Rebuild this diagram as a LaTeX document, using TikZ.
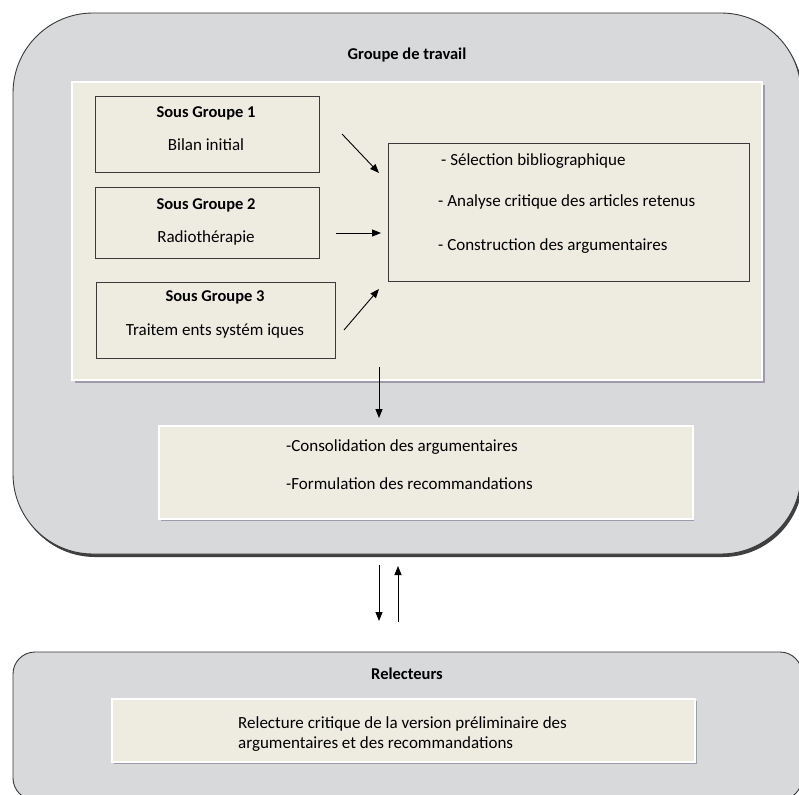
\documentclass[tikz,border=0pt]{standalone}
\usepackage{fontspec}
\setmainfont{Carlito}
\usetikzlibrary{arrows.meta,shadows,calc}
\definecolor{grpgray}{HTML}{D8D9DB}
\definecolor{beige}{HTML}{EEECE1}
\definecolor{shad}{HTML}{A09AAE}
\definecolor{edge}{HTML}{3A3A3A}
\tikzset{
  txt/.style={font=\fontsize{17}{20}\selectfont, inner sep=0pt},
  ttl/.style={font=\bfseries\fontsize{16.5}{20}\selectfont, inner sep=0pt},
  panel/.style={fill=beige, draw=white, line width=1.5pt},
  subbox/.style={draw=edge, line width=0.9pt},
  arr/.style={-{Triangle[length=9pt,width=7pt]}, line width=0.9pt, black},
}
\begin{document}
\begin{tikzpicture}[x=1pt,y=-1pt]
\useasboundingbox (0,0) rectangle (799,794);
\fill[white] (0,0) rectangle (799,794);
% Groupe de travail outer box
\fill[black!75, rounded corners=80] (15,16) rectangle (803,557);
\draw[edge, fill=grpgray, line width=0.9pt, rounded corners=80] (13,13) rectangle (801,554);
\node[ttl] (gtitle) at (407,55) {Groupe de travail};
% inner panel
\fill[shad] (75,85) rectangle (765,383);
\draw[panel] (72,82) rectangle (762,380);
% sub groups
\node[subbox, minimum width=224, minimum height=76, anchor=north west] (sg1) at (95,96) {};
\node[ttl] (sg1t) at (206,113) {Sous Groupe 1};
\node[txt] (sg1s) at (206,145) {Bilan initial};
\node[subbox, minimum width=224, minimum height=71, anchor=north west] (sg2) at (95,187) {};
\node[ttl] (sg2t) at (206,205) {Sous Groupe 2};
\node[txt] (sg2s) at (206,238) {Radiothérapie};
\node[subbox, minimum width=239, minimum height=76, anchor=north west] (sg3) at (96,282) {};
\node[ttl] (sg3t) at (215,297) {Sous Groupe 3};
\node[txt] (sg3s) at (215,331) {Traitem ents systém iques};
% right box
\node[subbox, minimum width=361, minimum height=138, anchor=north west] (rb) at (388,143) {};
\node[txt, anchor=west] (r1) at (441,161) {- Sélection bibliographique};
\node[txt, anchor=west] (r2) at (438,202) {- Analyse critique des articles retenus};
\node[txt, anchor=west] (r3) at (438,246) {- Construction des argumentaires};
% arrows into right box
\coordinate (a1s) at (342,134); \coordinate (a1e) at (379,173);
\coordinate (a2s) at (336,233); \coordinate (a2e) at (381,233);
\coordinate (a3s) at (344,330); \coordinate (a3e) at (379,289);
\draw[arr] (a1s) -- (a1e);
\draw[arr] (a2s) -- (a2e);
\draw[arr] (a3s) -- (a3e);
% consolidation box
\fill[shad] (161,428) rectangle (694,521);
\node[panel, minimum width=534, minimum height=93, anchor=north west] (cons) at (158,425) {};
\node[txt, anchor=west] (c1) at (286,447) {-Consolidation des argumentaires};
\node[txt, anchor=west] (c2) at (286,484) {-Formulation des recommandations};
\coordinate (d1s) at (379,367); \coordinate (d1e) at (379,418);
\draw[arr] (d1s) -- (d1e);
% double arrows
\coordinate (d2s) at (379,565); \coordinate (d2e) at (379,621);
\coordinate (u2s) at (398,622); \coordinate (u2e) at (398,566);
\draw[arr] (d2s) -- (d2e);
\draw[arr] (u2s) -- (u2e);
% Relecteurs
\draw[edge, fill=grpgray, line width=0.9pt, rounded corners=22] (13,652) rectangle (802,800);
\node[ttl] (rtitle) at (407,674) {Relecteurs};
\fill[shad] (114,701) rectangle (697,764);
\node[panel, minimum width=583, minimum height=63, anchor=north west] (rel) at (111,698) {};
\node[txt, anchor=north west, align=left] (rtxt) at (238,716) {Relecture critique de la version préliminaire des\\argumentaires et des recommandations};
\end{tikzpicture}
\end{document}
